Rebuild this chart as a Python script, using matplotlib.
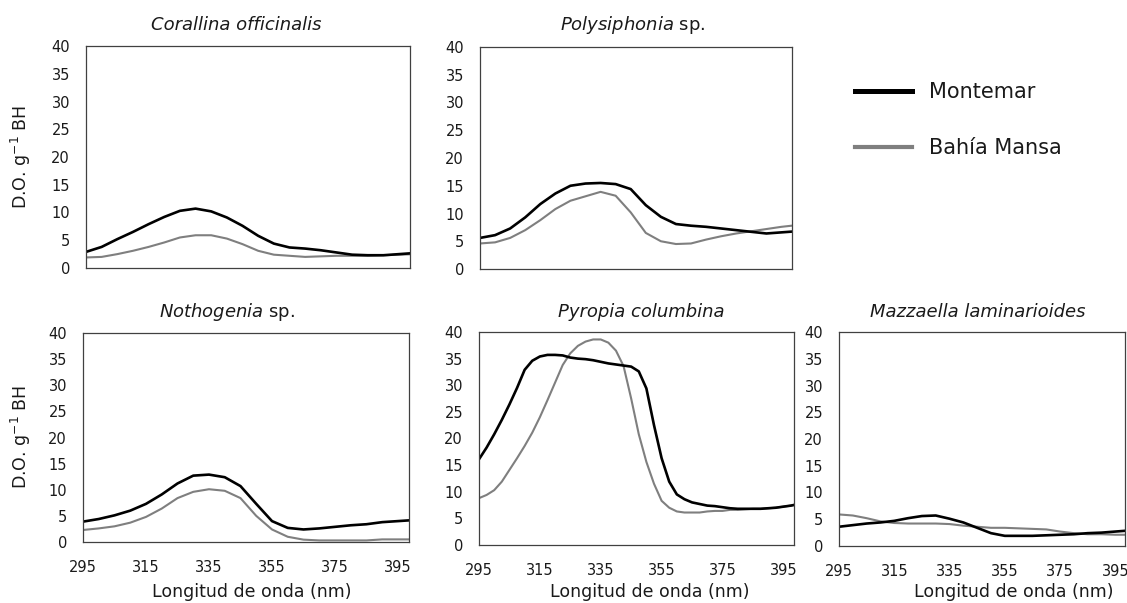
import matplotlib
matplotlib.use("Agg")
import matplotlib.pyplot as plt
from matplotlib.lines import Line2D

plt.rcParams['font.family'] = ['DejaVu Sans']
plt.rcParams['mathtext.default'] = 'regular'

# ---------------- data ----------------
wl = [295, 300, 305, 310, 315, 320, 325, 330, 335, 340, 345, 350,
      355, 360, 365, 370, 375, 380, 385, 390, 395, 400]

cor_mont = [2.9, 3.8, 5.2, 6.5, 7.9, 9.2, 10.3, 10.7, 10.2, 9.1, 7.6, 5.8,
            4.4, 3.7, 3.5, 3.2, 2.8, 2.4, 2.3, 2.3, 2.5, 2.7]
cor_bahia = [1.9, 2.0, 2.5, 3.1, 3.8, 4.6, 5.5, 5.9, 5.9, 5.3, 4.3, 3.1,
             2.4, 2.2, 2.0, 2.1, 2.2, 2.2, 2.2, 2.3, 2.4, 2.5]

pol_mont = [5.6, 6.1, 7.3, 9.3, 11.7, 13.6, 15.0, 15.4, 15.5, 15.3, 14.4, 11.5,
            9.4, 8.1, 7.8, 7.6, 7.3, 7.0, 6.7, 6.4, 6.6, 6.8]
pol_bahia = [4.6, 4.8, 5.6, 7.0, 8.8, 10.8, 12.3, 13.1, 13.9, 13.2, 10.2, 6.5,
             5.0, 4.5, 4.6, 5.3, 5.9, 6.4, 6.8, 7.2, 7.6, 7.9]

not_mont = [3.9, 4.4, 5.1, 6.0, 7.3, 9.1, 11.2, 12.7, 12.9, 12.4, 10.7, 7.3,
            4.0, 2.7, 2.4, 2.6, 2.9, 3.2, 3.4, 3.8, 4.0, 4.2]
not_bahia = [2.3, 2.6, 3.0, 3.7, 4.8, 6.4, 8.4, 9.6, 10.1, 9.8, 8.4, 5.0,
             2.4, 1.0, 0.45, 0.3, 0.3, 0.3, 0.3, 0.5, 0.5, 0.5]

wl_pyr = [295, 297.5, 300, 302.5, 305, 307.5, 310, 312.5, 315, 317.5, 320,
          322.5, 325, 327.5, 330, 332.5, 335, 337.5, 340, 342.5, 345, 347.5,
          350, 352.5, 355, 357.5, 360, 362.5, 365, 367.5, 370, 372.5, 375,
          377.5, 380, 382.5, 385, 387.5, 390, 392.5, 395, 397.5, 400]
pyr_mont = [16.1, 18.3, 20.8, 23.5, 26.4, 29.5, 32.9, 34.6, 35.4, 35.7, 35.7,
            35.6, 35.2, 35.0, 34.9, 34.7, 34.4, 34.1, 33.9, 33.7, 33.5, 32.6,
            29.4, 22.5, 16.3, 11.9, 9.5, 8.6, 8.0, 7.7, 7.4, 7.3, 7.1,
            6.9, 6.8, 6.8, 6.8, 6.8, 6.9, 7.0, 7.2, 7.4, 7.7]
pyr_bahia = [8.8, 9.4, 10.3, 11.9, 14.1, 16.3, 18.6, 21.1, 24.0, 27.2, 30.5,
             33.8, 36.0, 37.4, 38.2, 38.6, 38.6, 38.0, 36.5, 33.6, 27.5, 20.8,
             15.6, 11.5, 8.3, 7.0, 6.3, 6.1, 6.1, 6.1, 6.3, 6.4, 6.4,
             6.6, 6.6, 6.7, 6.8, 6.8, 6.9, 7.0, 7.2, 7.4, 7.7]

maz_mont = [3.6, 3.9, 4.2, 4.4, 4.7, 5.2, 5.6, 5.7, 5.1, 4.4, 3.4, 2.4,
            1.9, 1.9, 1.9, 2.0, 2.1, 2.2, 2.4, 2.5, 2.7, 2.9]
maz_bahia = [5.9, 5.7, 5.2, 4.6, 4.3, 4.2, 4.2, 4.2, 4.1, 3.8, 3.6, 3.4,
             3.4, 3.3, 3.2, 3.1, 2.7, 2.4, 2.2, 2.2, 2.1, 2.1]

titles = [("Corallina officinalis", ""), ("Polysiphonia", " sp."),
          ("Nothogenia", " sp."), ("Pyropia columbina", ""),
          ("Mazzaella laminarioides", "")]
series_names = ["Montemar", "Bahía Mansa"]
xticks = [295, 315, 335, 355, 375, 395]
yticks = [0, 5, 10, 15, 20, 25, 30, 35, 40]
ylabel = "D.O. g$^{-1}$ BH"
xlabel = "Longitud de onda (nm)"

panels = [
    (wl, cor_mont, cor_bahia),
    (wl, pol_mont, pol_bahia),
    (wl, not_mont, not_bahia),
    (wl_pyr, pyr_mont, pyr_bahia),
    (wl, maz_mont, maz_bahia),
]

# ---------------- layout (pixels) ----------------
W, H = 1127, 603
boxes = [(86, 410, 46, 268), (480, 792, 47, 269),
         (83, 409, 333, 542), (479, 794, 332, 545), (839, 1125, 332, 546)]
title_pos = [(236, 30), (633, 30), (227, 317), (641, 317), (978, 317)]
xlabel_pos = [None, None, (252, 597), (650, 597), (1014, 597)]

fig = plt.figure(figsize=(W / 100, H / 100), dpi=100)

BLACK = "#000000"
GRAY = "#7f7f7f"
TXT = "#1a1a1a"

for i, ((x, m, b), (x0, x1, yt, yb)) in enumerate(zip(panels, boxes)):
    ax = fig.add_axes([x0 / W, 1 - yb / H, (x1 - x0) / W, (yb - yt) / H])
    ax.plot(x, b, color=GRAY, lw=1.5, solid_joinstyle='round')
    ax.plot(x, m, color=BLACK, lw=1.9, solid_joinstyle='round')
    ax.set_xlim(295, 398.5)
    ax.set_ylim(0, 40)
    ax.set_yticks(yticks)
    ax.set_xticks(xticks)
    ax.tick_params(axis='both', length=0, labelsize=10.5, colors=TXT)
    ax.tick_params(axis='y', pad=11.5)
    ax.tick_params(axis='x', pad=13)
    if i < 2:
        ax.set_xticklabels([])
    for s in ax.spines.values():
        s.set_color('#404040')
        s.set_linewidth(0.9)
    # title
    tx, ty = title_pos[i]
    it, rest = titles[i]
    if rest:
        full = "$\\it{" + it + "}$" + rest
        fig.text(tx / W, 1 - ty / H, full, ha='center', va='baseline',
                 fontsize=13, color=TXT)
    else:
        fig.text(tx / W, 1 - ty / H, it, ha='center', va='baseline',
                 fontsize=13, style='italic', color=TXT)
    if xlabel_pos[i]:
        lx, ly = xlabel_pos[i]
        fig.text(lx / W, 1 - ly / H, xlabel, ha='center', va='baseline',
                 fontsize=12.5, color=TXT)

for yc in (157, 437):
    fig.text(21 / W, 1 - yc / H, ylabel, rotation=90, ha='center',
             va='center', fontsize=12.5, color=TXT)

handles = [Line2D([], [], color=BLACK, lw=3.6),
           Line2D([], [], color=GRAY, lw=3.0)]
fig.legend(handles, series_names, loc='upper left',
           bbox_to_anchor=(855 / W, 1 - 82 / H), frameon=False, fontsize=15,
           handlelength=2.75, handletextpad=0.8, labelspacing=1.75,
           borderpad=0, borderaxespad=0, labelcolor=TXT)

fig.savefig("out.png", dpi=100)
